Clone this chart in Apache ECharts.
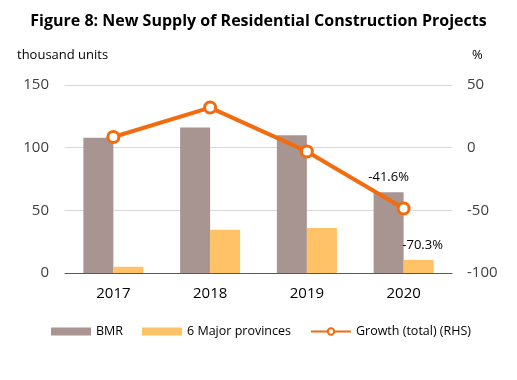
<!DOCTYPE html>
<html>
<head>
<meta charset="utf-8">
<script src="https://cdn.jsdelivr.net/npm/echarts@6/dist/echarts.min.js"></script>
<style>html,body{margin:0;padding:0;background:#fff}#c{width:517px;height:380px}</style>
</head>
<body>
<div id="c"></div>
<script>
var years = ['2017', '2018', '2019', '2020'];
var bmr = [108, 116, 110, 64.5];
var major6 = [5, 34.5, 36, 10.5];
var growthTotal = [8.5, 32, -3, -48.5];
var barLabels2020 = ['-41.6%', '-70.3%'];
var leftTicks = {min: 0, max: 150, interval: 50};
var rightTicks = {min: -100, max: 50, interval: 50};

var font = 'Open Sans';
var chart = echarts.init(document.getElementById('c'), null, {renderer: 'canvas'});

function lastLabel(text) {
  return function (p) { return p.dataIndex === years.length - 1 ? text : ''; };
}

chart.setOption({
  animation: false,
  textStyle: {fontFamily: font},
  title: {
    text: 'Figure 8: New Supply of Residential Construction Projects',
    left: 'center', top: 8,
    textStyle: {fontFamily: font, fontSize: 16, fontWeight: 'bold', color: '#000'}
  },
  graphic: [
    {type: 'text', left: 17, top: 49, style: {text: 'thousand units', font: '13px "Open Sans"', fill: '#000'}},
    {type: 'text', left: 472, top: 49, style: {text: '%', font: '13px "Open Sans"', fill: '#000'}}
  ],
  grid: {left: 65, right: 65, top: 85, bottom: 107, containLabel: false},
  legend: {
    bottom: 37, left: 46,
    itemWidth: 40, itemHeight: 8, itemGap: 19,
    textStyle: {fontFamily: font, fontSize: 12.5, color: '#000'},
    data: [
      {name: 'BMR', icon: 'rect'},
      {name: '6 Major provinces', icon: 'rect'},
      {name: 'Growth (total) (RHS)'}
    ]
  },
  xAxis: {
    type: 'category', data: years,
    axisTick: {show: false},
    axisLine: {lineStyle: {color: '#595959', width: 1}},
    axisLabel: {fontFamily: font, fontSize: 15, color: '#000', margin: 13}
  },
  yAxis: [
    {type: 'value', min: leftTicks.min, max: leftTicks.max, interval: leftTicks.interval,
     axisLabel: {fontFamily: font, fontSize: 15, color: '#404040', margin: 16},
     splitLine: {lineStyle: {color: '#D9D9D9'}}, axisLine: {show: false}, axisTick: {show: false}},
    {type: 'value', min: rightTicks.min, max: rightTicks.max, interval: rightTicks.interval,
     axisLabel: {fontFamily: font, fontSize: 15, color: '#404040', margin: 15},
     splitLine: {show: false}, axisLine: {show: false}, axisTick: {show: false}}
  ],
  series: [
    {name: 'BMR', type: 'bar', data: bmr, barWidth: 30, barGap: '0%',
     itemStyle: {color: '#A89592'},
     label: {show: true, position: 'top', distance: 8, formatter: lastLabel(barLabels2020[0]),
             fontFamily: font, fontSize: 13, color: '#000'}},
    {name: '6 Major provinces', type: 'bar', data: major6, barWidth: 30,
     itemStyle: {color: '#FFC266'},
     label: {show: true, position: 'top', distance: 8, offset: [4, 0], formatter: lastLabel(barLabels2020[1]),
             fontFamily: font, fontSize: 13, color: '#000'}},
    {name: 'Growth (total) (RHS)', type: 'line', yAxisIndex: 1, data: growthTotal,
     symbol: 'circle', symbolSize: 11,
     lineStyle: {color: '#F26B0F', width: 4},
     itemStyle: {color: '#fff', borderColor: '#F26B0F', borderWidth: 3}}
  ]
});
</script>
</body>
</html>
